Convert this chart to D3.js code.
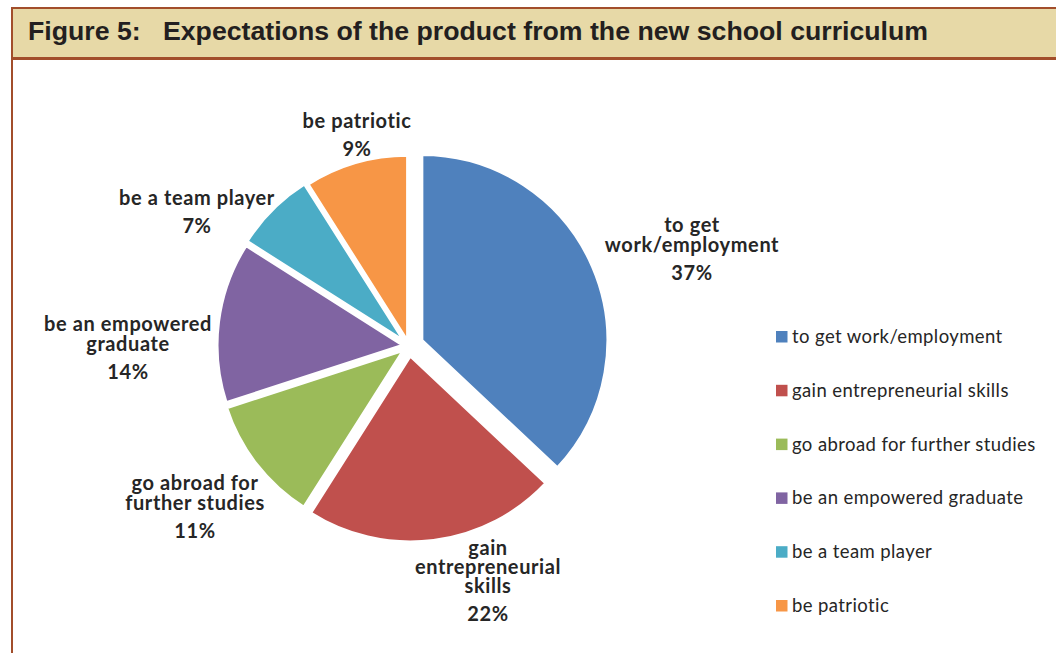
<!DOCTYPE html>
<html>
<head>
<meta charset="utf-8">
<script src="https://cdn.jsdelivr.net/npm/d3@7/dist/d3.min.js"></script>
<style>
  html, body { margin: 0; padding: 0; background: #ffffff; }
  svg { display: block; }
</style>
</head>
<body>
<svg id="chart" width="1056" height="653"></svg>
<script>
// Survey shares (percent) for each expected outcome
const categories = [
  "to get work/employment",
  "gain entrepreneurial skills",
  "go abroad for further studies",
  "be an empowered graduate",
  "be a team player",
  "be patriotic"
];
const values = [37, 22, 11, 14, 7, 9];
const colors = ["#4f81bd", "#c0504d", "#9bbb59", "#8064a2", "#4bacc6", "#f79646"];
// Line breaks used for the data labels beside each slice
const labelLines = [
  ["to get", "work/employment"],
  ["gain", "entrepreneurial", "skills"],
  ["go abroad for", "further studies"],
  ["be an empowered", "graduate"],
  ["be a team player"],
  ["be patriotic"]
];

const svg = d3.select("#chart");
const W = 1056, H = 653;
const frame = "#a24e2b";

// Title band with brown rules
svg.append("rect").attr("x", 11).attr("y", 8).attr("width", W - 11).attr("height", 50)
  .attr("fill", "#e7d9a7");
svg.append("line").attr("x1", 11).attr("x2", W).attr("y1", 8).attr("y2", 8)
  .attr("stroke", frame).attr("stroke-width", 2);
svg.append("line").attr("x1", 11).attr("x2", W).attr("y1", 58.5).attr("y2", 58.5)
  .attr("stroke", frame).attr("stroke-width", 3);
svg.append("line").attr("x1", 12).attr("x2", 12).attr("y1", 7).attr("y2", H)
  .attr("stroke", frame).attr("stroke-width", 2);

svg.append("text")
  .attr("x", 28).attr("y", 40)
  .attr("font-family", "Liberation Sans, Arial, sans-serif")
  .attr("font-weight", "bold").attr("font-size", 26.7)
  .attr("fill", "#231f20")
  .attr("xml:space", "preserve")
  .text("Figure 5:   Expectations of the product from the new school curriculum");

// Exploded pie: each slice pushed out along its bisector
const cx = 409, cy = 346, radius = 186;
const explodeBy = [14, 10, 7, 6, 7, 5];
const pie = d3.pie().sort(null).value(d => d.value).startAngle(0).endAngle(2 * Math.PI);
const arc = d3.arc().innerRadius(0).outerRadius(radius);
const data = categories.map((c, i) => ({ name: c, value: values[i], color: colors[i], lines: labelLines[i], explode: explodeBy[i] }));
const arcs = pie(data);

const g = svg.append("g").attr("transform", `translate(${cx},${cy})`);
g.selectAll("path.slice").data(arcs).enter().append("path")
  .attr("class", "slice")
  .attr("d", arc)
  .attr("fill", d => d.data.color)
  .attr("stroke", "#ffffff")
  .attr("stroke-width", 3)
  .attr("stroke-linejoin", "round")
  .attr("transform", d => {
    const a = (d.startAngle + d.endAngle) / 2;
    const e = d.data.explode;
    return `translate(${e * Math.sin(a)},${-e * Math.cos(a)})`;
  });

// Data labels: category name lines then percentage (anchor = first baseline)
const labelPos = [
  [692, 232], [488, 555], [195, 490], [128, 331], [197, 205], [357, 128]
];
const labelFont = "Lato, 'Open Sans', sans-serif";
arcs.forEach((d, i) => {
  const [lx, ly] = labelPos[i];
  const t = svg.append("text")
    .attr("font-family", labelFont).attr("font-weight", "bold")
    .attr("font-size", 20).attr("letter-spacing", 0.6).attr("fill", "#262626")
    .attr("text-anchor", "middle");
  const lines = d.data.lines;
  const step = i === 1 ? 19 : 20;
  lines.forEach((ln, k) => {
    t.append("tspan").attr("x", lx).attr("y", ly + k * step).text(ln);
  });
  t.append("tspan").attr("x", lx).attr("y", ly + (lines.length - 1) * step + 28)
    .text(d3.format(".0f")(d.data.value) + "%");
});

// Legend
const legend = svg.append("g");
const legTop = 331, legStep = 53.8;
data.forEach((d, i) => {
  const y = legTop + i * legStep;
  legend.append("rect").attr("x", 776).attr("y", y).attr("width", 11.5).attr("height", 11.5)
    .attr("fill", d.color);
  legend.append("text").attr("x", 792).attr("y", y + 12)
    .attr("font-family", labelFont).attr("font-size", 18.5).attr("letter-spacing", 0.4)
    .attr("fill", "#262626")
    .text(d.name);
});
</script>
</body>
</html>
